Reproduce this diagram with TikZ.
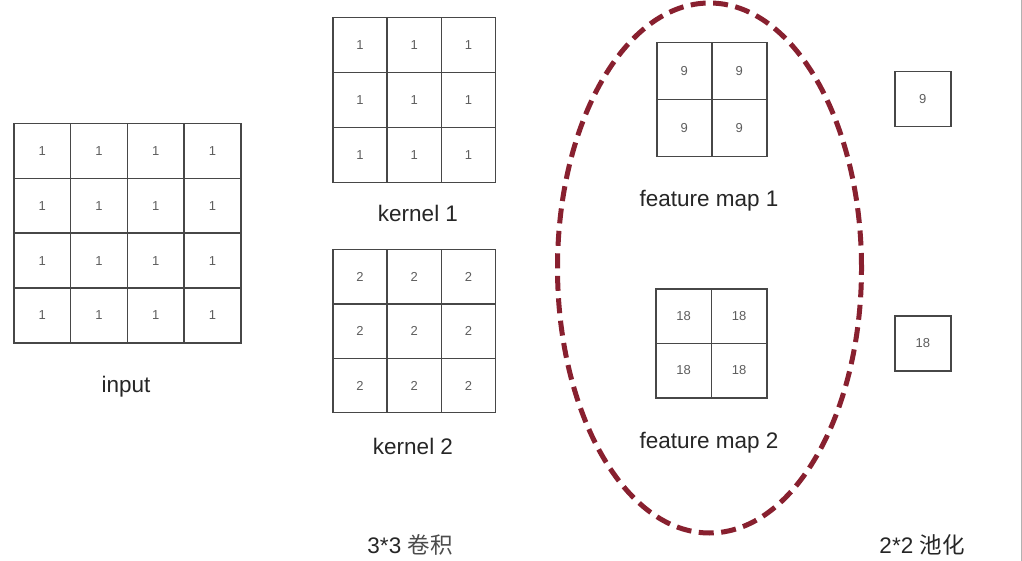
\documentclass[tikz,border=0pt]{standalone}
\usepackage{fontspec}
\setmainfont{Liberation Sans}
\newfontfamily\cjk{Noto Sans CJK SC}
\definecolor{gridline}{HTML}{474747}
\definecolor{numgray}{HTML}{5E5E5E}
\definecolor{darkred}{HTML}{88202F}
\begin{document}
\begin{tikzpicture}[x=1pt,y=-1pt,
  cell/.style={draw=gridline,line width=1.5pt,inner sep=0pt,anchor=north west,
    font=\fontsize{13}{13}\selectfont,text=numgray},
  lbl/.style={font=\fontsize{22.5}{22.5}\selectfont,text=black!85},
  ring/.style={draw=darkred,line width=5pt,dash pattern=on 15pt off 7.5pt}]
\useasboundingbox (0,0) rectangle (1022,561);
\fill[white] (0,0) rectangle (1022,561);
\draw[gray!60,line width=1pt] (1021,0) -- (1021,561);
% input 4x4
\foreach \r in {0,...,3}{\foreach \c in {0,...,3}{
  \node[cell,minimum width=56.75pt,minimum height=54.75pt] (in\r\c) at (13+56.75*\c,123+54.75*\r) {1};}}
\node[lbl] (inlbl) at (126,387) {input};
% kernel 1
\foreach \r in {0,...,2}{\foreach \c in {0,...,2}{
  \node[cell,minimum width=54.33pt,minimum height=55pt] (ka\r\c) at (332+54.33*\c,17+55*\r) {1};}}
\node[lbl] (kalbl) at (418,213) {kernel 1};
% kernel 2
\foreach \r in {0,...,2}{\foreach \c in {0,...,2}{
  \node[cell,minimum width=54.33pt,minimum height=54.33pt] (kb\r\c) at (332+54.33*\c,249+54.33*\r) {2};}}
\node[lbl] (kblbl) at (413,446) {kernel 2};
% feature map 1
\foreach \r in {0,1}{\foreach \c in {0,1}{
  \node[cell,minimum width=55pt,minimum height=57pt] (fa\r\c) at (656+55*\c,42+57*\r) {9};}}
\node[lbl] (falbl) at (709,201) {feature map 1};
% feature map 2
\foreach \r in {0,1}{\foreach \c in {0,1}{
  \node[cell,minimum width=55.5pt,minimum height=54.5pt] (fb\r\c) at (655+55.5*\c,288+54.5*\r) {18};}}
\node[lbl] (fblbl) at (709,443) {feature map 2};
% pooled
\node[cell,minimum width=56pt,minimum height=55pt] (pa) at (894,71) {9};
\node[cell,minimum width=56pt,minimum height=55pt] (pb) at (894,315) {18};
% ellipse
\draw[ring] (709.5,268) ellipse [x radius=152pt,y radius=265pt];
% bottom labels
\node[lbl] (conv) at (410,545) {3*3 {\cjk\color{black!70}卷积}};
\node[lbl] (pool) at (922,545) {2*2 {\cjk 池化}};
\end{tikzpicture}
\end{document}
